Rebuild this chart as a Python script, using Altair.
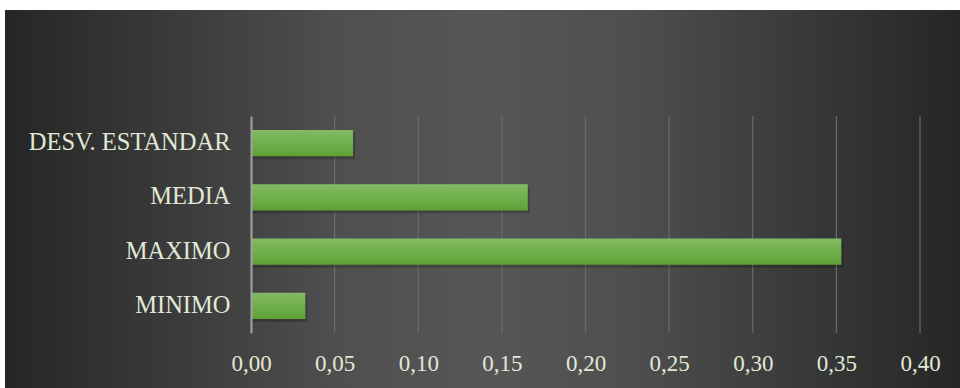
import altair as alt
import pandas as pd

categories = ["DESV. ESTANDAR", "MEDIA", "MAXIMO", "MINIMO"]
values = [0.061, 0.1655, 0.353, 0.0325]
grid_ticks = [0.05, 0.10, 0.15, 0.20, 0.25, 0.30, 0.35, 0.40]
axis_ticks = [0.0, 0.05, 0.10, 0.15, 0.20, 0.25, 0.30, 0.35, 0.40]

PLOT_W, PLOT_H = 669, 217
PAD = {"left": 251, "top": 116, "right": 40, "bottom": 55}

df = pd.DataFrame({"cat": categories, "val": values})
grid_df = pd.DataFrame({"g": grid_ticks})

FONT = "Liberation Serif"
TEXT = "#e0e9d7"

xscale = alt.Scale(domain=[0, 0.40], nice=False, zero=True)
yscale = alt.Scale(domain=categories, paddingInner=0.52, paddingOuter=0.26)

bg = alt.Chart(pd.DataFrame({"a": [0]})).mark_rect(
    clip=False,
    fill=alt.Gradient(
        gradient="linear",
        x1=0, y1=0, x2=1, y2=0,
        stops=[
            alt.GradientStop(color="#262626", offset=0),
            alt.GradientStop(color="#4f4f4f", offset=0.35),
            alt.GradientStop(color="#565656", offset=0.5),
            alt.GradientStop(color="#4f4f4f", offset=0.65),
            alt.GradientStop(color="#262626", offset=1),
        ],
    ),
).encode(
    x=alt.value(5 - PAD["left"]),
    x2=alt.value(960 - PAD["left"]),
    y=alt.value(10 - PAD["top"]),
    y2=alt.value(388 - PAD["top"]),
)

grid = alt.Chart(grid_df).mark_rule(color="#6c6c6c", strokeWidth=1.2).encode(
    x=alt.X("g:Q", scale=xscale),
    y=alt.value(0),
    y2=alt.value(PLOT_H),
)

shadow = alt.Chart(df).mark_bar(
    color="#000000", opacity=0.2, xOffset=2, yOffset=3, x2Offset=3
).encode(
    x=alt.X("val:Q", scale=xscale),
    y=alt.Y("cat:N", scale=yscale, sort=categories),
)

bars = alt.Chart(df).mark_bar(
    fill=alt.Gradient(
        gradient="linear",
        x1=0, y1=0, x2=0, y2=1,
        stops=[
            alt.GradientStop(color="#82bb64", offset=0),
            alt.GradientStop(color="#5fa134", offset=1),
        ],
    ),
).encode(
    x=alt.X(
        "val:Q",
        scale=xscale,
        axis=alt.Axis(
            title=None,
            values=axis_ticks,
            labelExpr="replace(format(datum.value, '.2f'), '.', ',')",
            grid=False,
            domain=False,
            ticks=False,
            tickSize=0,
            labelPadding=19,
            labelFont=FONT,
            labelFontSize=23,
            labelColor=TEXT,
            labelFlush=False,
            labelOverlap=False,
            labelLimit=0,
            zindex=1,
        ),
    ),
    y=alt.Y(
        "cat:N",
        scale=yscale,
        sort=categories,
        axis=alt.Axis(
            title=None,
            grid=False,
            ticks=False,
            tickSize=0,
            domain=True,
            domainColor="#a3a3a3",
            domainWidth=2,
            labelPadding=21,
            labelFont=FONT,
            labelFontSize=24.5,
            labelColor=TEXT,
            labelLimit=0,
            zindex=1,
        ),
    ),
)

chart = alt.layer(bg, grid, shadow, bars).properties(
    width=PLOT_W,
    height=PLOT_H,
    padding=PAD,
    autosize=alt.AutoSizeParams(type="none"),
    background="#ffffff",
).configure_view(stroke=None)

chart.save("out.html", embed_options={"renderer": "svg", "actions": False})
